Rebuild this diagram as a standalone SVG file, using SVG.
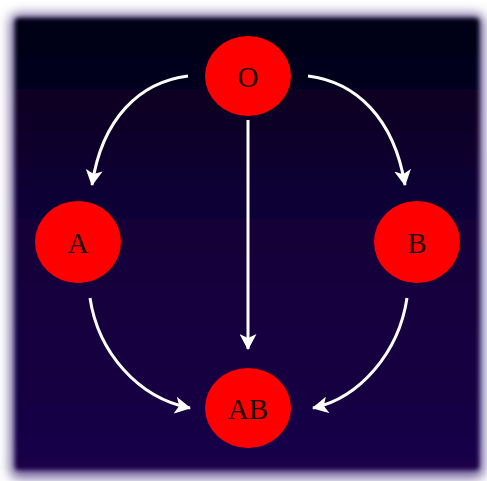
<svg xmlns="http://www.w3.org/2000/svg" width="487" height="481" viewBox="0 0 487 481">
<style>
.node ellipse{fill:#ff0000;stroke:none}
.node text{font-family:"Liberation Serif","DejaVu Serif",serif;font-size:29px;fill:#1a0000;text-anchor:middle;dominant-baseline:central}
.edge{fill:none;stroke:#ffffff;stroke-width:3;marker-end:url(#arr)}
</style>
<defs>
<linearGradient id="bg" x1="0" y1="0" x2="0" y2="1">
<stop offset="0" stop-color="#000012"/>
<stop offset="0.4" stop-color="#110036"/>
<stop offset="1" stop-color="#1a0048"/>
</linearGradient>
<filter id="glow" x="-10%" y="-10%" width="120%" height="120%">
<feGaussianBlur stdDeviation="6"/>
</filter>
<filter id="soft" x="-5%" y="-5%" width="110%" height="110%">
<feGaussianBlur stdDeviation="2"/>
</filter>
<marker id="arr" viewBox="0 0 16 17" refX="15" refY="8.5" markerWidth="16" markerHeight="17" markerUnits="userSpaceOnUse" orient="auto">
<path d="M0,0 L16,8.5 L0,17 L4,8.5 Z" fill="#ffffff"/>
</marker>
</defs>
<rect width="487" height="481" fill="#ffffff"/>
<rect x="10" y="14" width="474" height="464" rx="8" fill="#6e5e98" filter="url(#glow)"/>
<rect x="15" y="18" width="464" height="452" rx="4" fill="url(#bg)" filter="url(#soft)"/>
<g id="connectors">
<path class="edge" d="M188,76 C140,82 102,118 92,185"/>
<path class="edge" d="M308,76 C356,82 394,118 405,185"/>
<path class="edge" d="M248,120 L248,349"/>
<path class="edge" d="M90,298 C98,352 138,398 190,408"/>
<path class="edge" d="M407,298 C399,352 360,398 313,408"/>
</g>
<g id="node-O" class="node"><ellipse cx="248" cy="76" rx="43" ry="40"/><text x="248" y="77">O</text></g>
<g id="node-A" class="node"><ellipse cx="78" cy="242" rx="43" ry="41"/><text x="78" y="243">A</text></g>
<g id="node-B" class="node"><ellipse cx="417" cy="242" rx="43" ry="41"/><text x="417" y="243">B</text></g>
<g id="node-AB" class="node"><ellipse cx="248" cy="408" rx="43" ry="40"/><text x="248" y="409">AB</text></g>
</svg>
